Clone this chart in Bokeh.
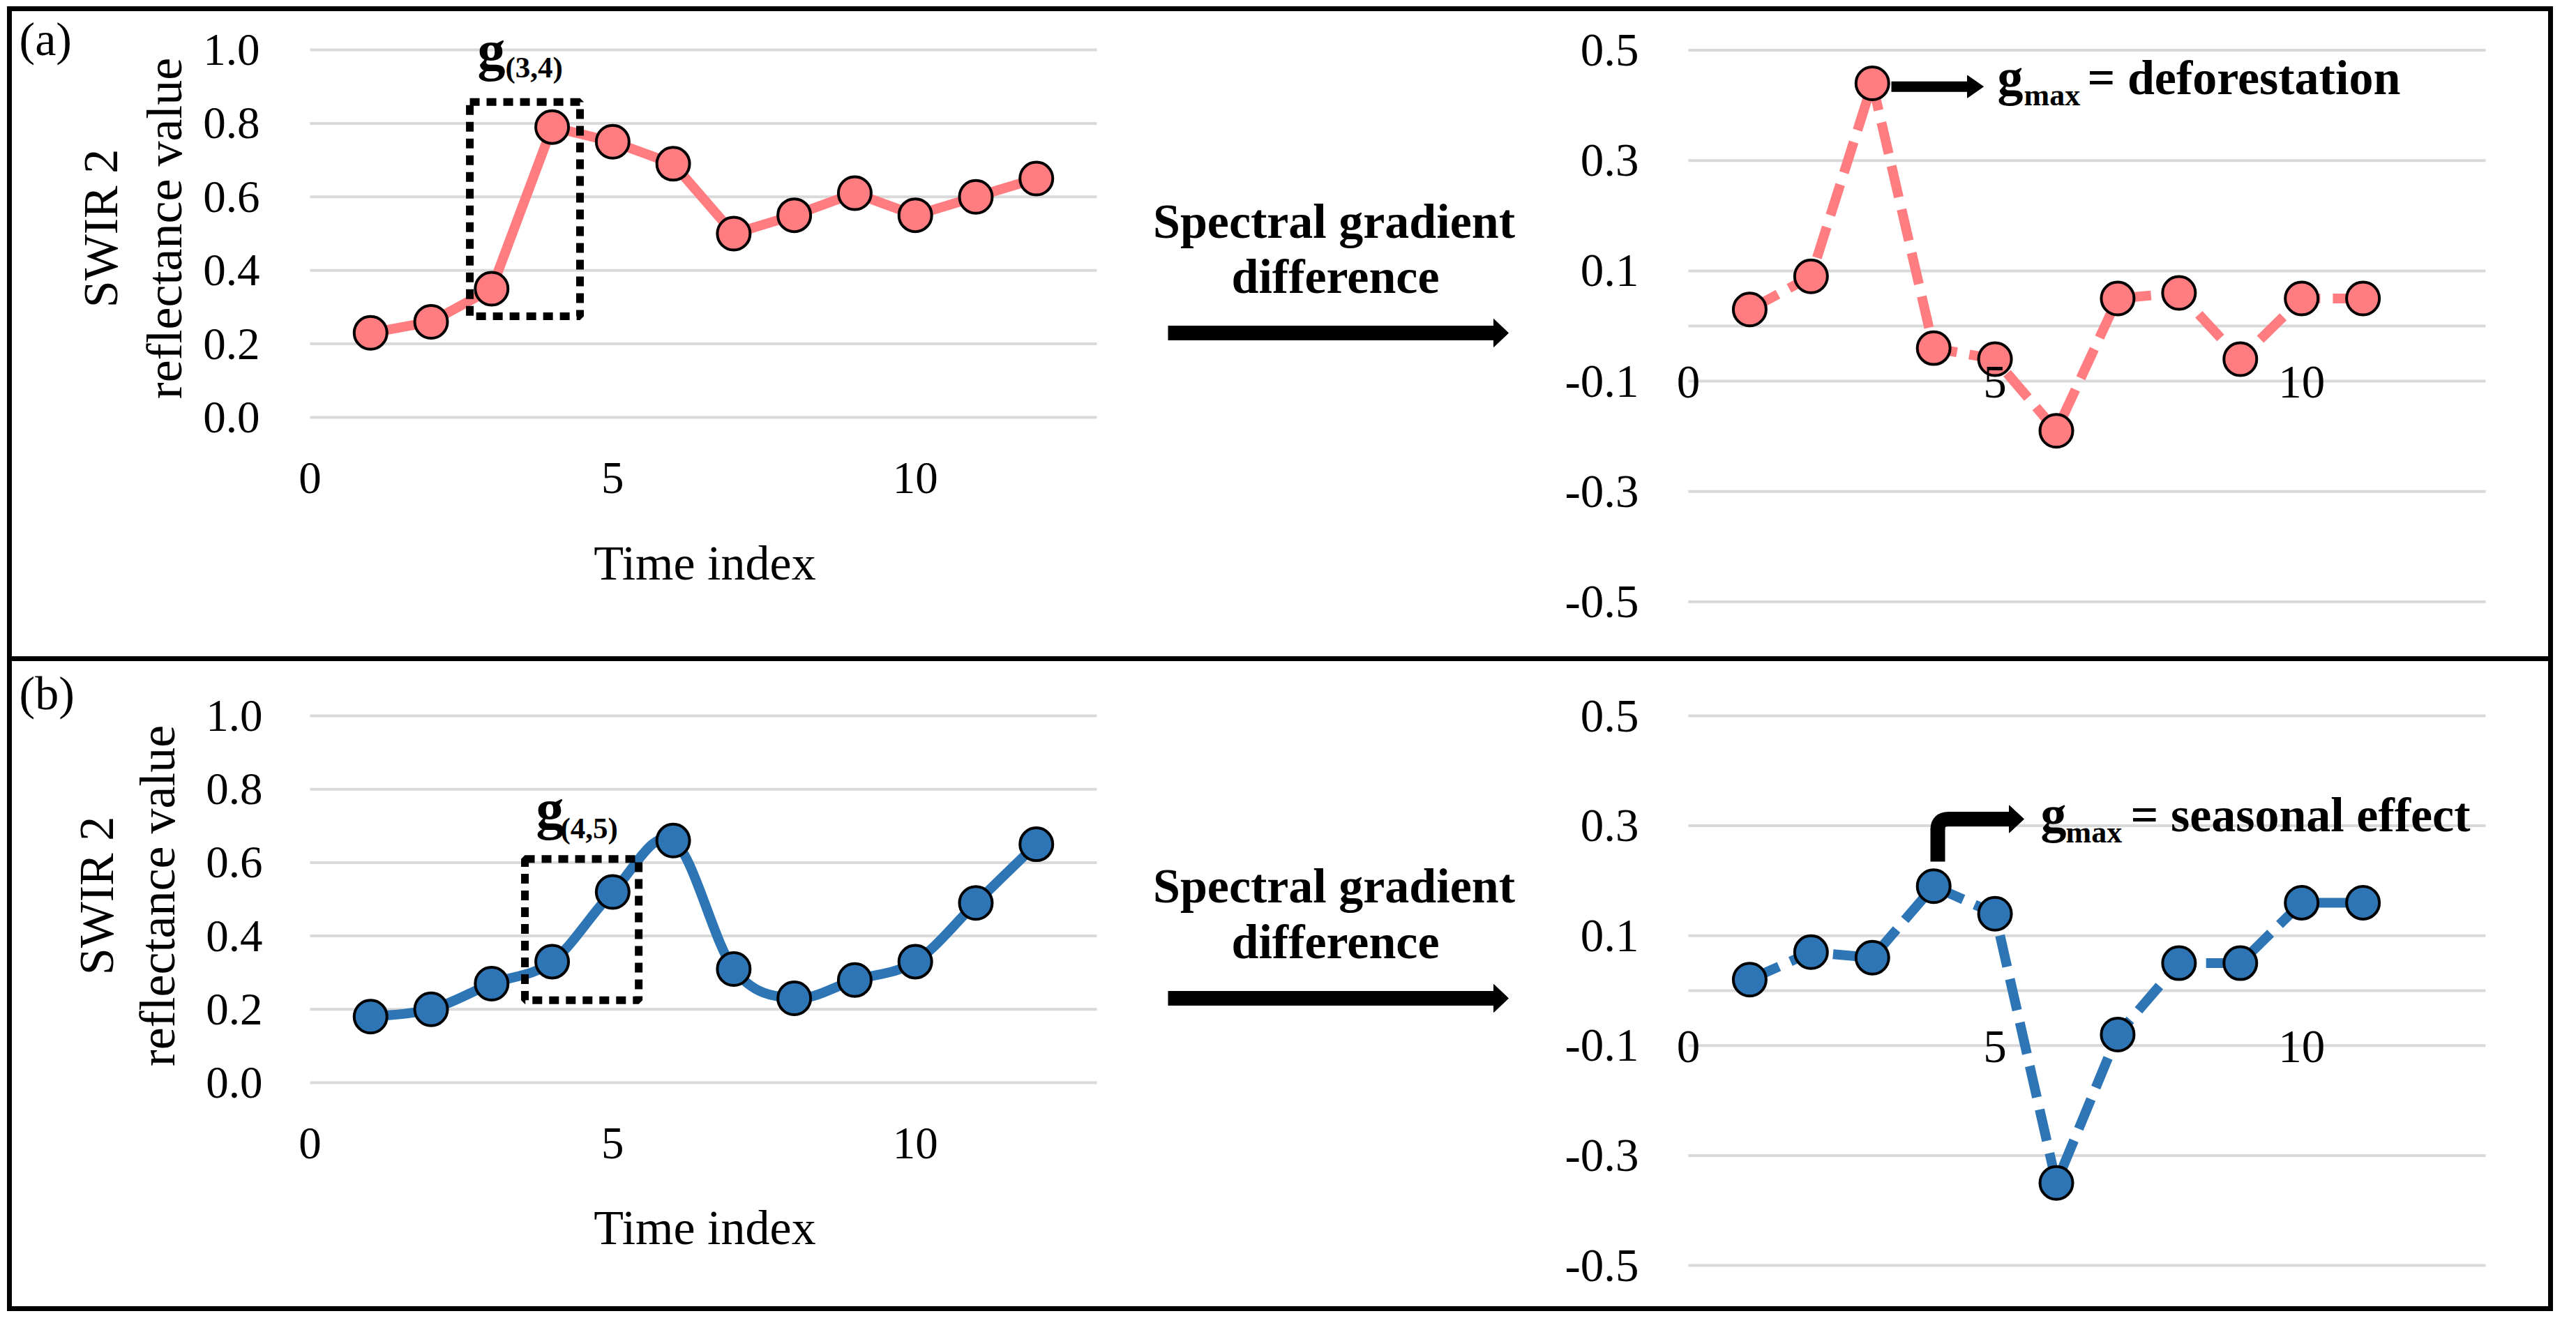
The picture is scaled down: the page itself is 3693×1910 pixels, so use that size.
import numpy as np
from bokeh.plotting import figure
from bokeh.models import Range1d, FixedTicker, PrintfTickFormatter, Label, Spacer
from bokeh.layouts import row, column
from bokeh.embed import file_html
from bokeh.resources import INLINE

# ---------------- data ----------------
time_index = [1, 2, 3, 4, 5, 6, 7, 8, 9, 10, 11, 12]
swir_a = [0.23, 0.26, 0.35, 0.79, 0.75, 0.69, 0.50, 0.55, 0.61, 0.55, 0.60, 0.65]
swir_b = [0.18, 0.20, 0.27, 0.33, 0.52, 0.66, 0.31, 0.23, 0.28, 0.33, 0.49, 0.65]
grad_index = [1, 2, 3, 4, 5, 6, 7, 8, 9, 10, 11]
grad_a = [0.03, 0.09, 0.44, -0.04, -0.06, -0.19, 0.05, 0.06, -0.06, 0.05, 0.05]
grad_b = [0.02, 0.07, 0.06, 0.19, 0.14, -0.35, -0.08, 0.05, 0.05, 0.16, 0.16]
x_ticks = [0, 5, 10]
x_extent = [0, 13]
swir_ticks = [0.0, 0.2, 0.4, 0.6, 0.8, 1.0]
grad_ticks = [-0.5, -0.3, -0.1, 0.1, 0.3, 0.5]
grad_grid = [-0.5, -0.3, -0.1, 0.0, 0.1, 0.3, 0.5]
box_a = [2.64, 4.46, 0.275, 0.858]   # left, right, bottom, top (gradient window 3-4)
box_b = [3.55, 5.43, 0.225, 0.61]    # gradient window 4-5

PINK = "#FF7C80"
BLUE = "#2E75B6"
GRID = "#D9D9D9"
FONT = "Liberation Serif"
MID = 0.3375   # (ascent - descent) / 2 of the font, in em: baseline -> box middle

# ---------------- page geometry (pixels) ----------------
PH = 925
LEFT_X, MID_X, RIGHT_X, END_X = 25, 1625, 2230, 3661
TOP_A, TOP_B = 24, 956


class Map:
    """page-pixel <-> data mapping of one chart (used for ranges and annotation placement)"""
    def __init__(self, px0, py0, sx, sy):
        self.px0, self.py0, self.sx, self.sy = px0, py0, sx, sy

    def x(self, px):
        return (px - self.px0) / self.sx

    def y(self, py):
        return (self.py0 - py) / self.sy


def make_fig(m, left, right, top):
    p = figure(width=right - left, height=PH,
               x_range=Range1d(m.x(left), m.x(right)),
               y_range=Range1d(m.y(top + PH), m.y(top)),
               output_backend="svg", toolbar_location=None, min_border=0)
    p.outline_line_color = None
    p.background_fill_color = "white"
    p.border_fill_color = "white"
    p.grid.visible = False
    for ax in p.axis:
        ax.fixed_location = 0
        ax.axis_line_color = None
        ax.major_tick_line_color = None
        ax.minor_tick_line_color = None
        ax.major_tick_out = 0
        ax.major_tick_in = 0
        ax.minor_tick_out = 0
        ax.minor_tick_in = 0
        ax.major_label_text_font = FONT
        ax.major_label_text_color = "black"
    return p


def text(p, m, px, base, s, size, bold=False, align="left", vertical=False):
    """place a text with its baseline at page position (px, base)"""
    if vertical:
        x, y, ang = m.x(base - MID * size), m.y(px), np.pi / 2
    else:
        x, y, ang = m.x(px), m.y(base - MID * size), 0.0
    p.add_layout(Label(x=x, y=y, text=s, text_font=FONT, text_font_size=f"{size}px",
                       text_font_style="bold" if bold else "normal", text_color="black",
                       text_align=align, text_baseline="middle", angle=ang))


def smooth_segments(xs, ys):
    n = len(xs)
    out = dict(x0=[], y0=[], x1=[], y1=[], cx0=[], cy0=[], cx1=[], cy1=[])
    for i in range(n - 1):
        xm, ym = (xs[i - 1], ys[i - 1]) if i > 0 else (xs[i], ys[i])
        xp, yp = (xs[i + 2], ys[i + 2]) if i + 2 < n else (xs[i + 1], ys[i + 1])
        out["x0"].append(xs[i]); out["y0"].append(ys[i])
        out["x1"].append(xs[i + 1]); out["y1"].append(ys[i + 1])
        out["cx0"].append(xs[i] + (xs[i + 1] - xm) / 6.0)
        out["cy0"].append(ys[i] + (ys[i + 1] - ym) / 6.0)
        out["cx1"].append(xs[i + 1] - (xp - xs[i]) / 6.0)
        out["cy1"].append(ys[i + 1] - (yp - ys[i]) / 6.0)
    return out


def left_chart(m, top, vals, color, smooth, box, sub, g_px, sub_px, panel, panel_px,
               lab_x, lab_c, time_base, standoff):
    p = make_fig(m, LEFT_X, MID_X, top)
    # horizontal grid lines between x = 0 and 13
    p.segment(x0=[x_extent[0]] * len(swir_ticks), x1=[x_extent[1]] * len(swir_ticks),
              y0=swir_ticks, y1=swir_ticks, line_color=GRID, line_width=4)
    p.yaxis.ticker = FixedTicker(ticks=swir_ticks)
    p.yaxis.formatter = PrintfTickFormatter(format="%.1f")
    p.yaxis.major_label_standoff = standoff
    p.yaxis.major_label_text_font_size = "65px"
    p.xaxis.ticker = FixedTicker(ticks=x_ticks)
    p.xaxis.major_label_standoff = 65
    p.xaxis.major_label_text_font_size = "65px"

    if smooth:
        seg = smooth_segments(time_index, vals)
        p.bezier(x0=seg["x0"], y0=seg["y0"], x1=seg["x1"], y1=seg["y1"],
                 cx0=seg["cx0"], cy0=seg["cy0"], cx1=seg["cx1"], cy1=seg["cy1"],
                 line_color=color, line_width=14, line_cap="round")
    else:
        p.line(time_index, vals, line_color=color, line_width=14, line_join="round")

    p.quad(left=[box[0]], right=[box[1]], bottom=[box[2]], top=[box[3]],
           fill_color=None, line_color="black", line_width=11, line_dash="14 10")
    p.scatter(time_index, vals, size=47, fill_color=color, line_color="black", line_width=4)

    # window label g(i,j)
    text(p, m, g_px[0], g_px[1], "g", 80, bold=True)
    text(p, m, sub_px[0], sub_px[1], sub, 43, bold=True)
    # axis titles
    text(p, m, lab_c, lab_x[0], "SWIR 2", 70, align="center", vertical=True)
    text(p, m, lab_c, lab_x[1], "reflectance value", 72, align="center", vertical=True)
    text(p, m, 1018, time_base, "Time index", 70, align="center")
    # panel tag
    text(p, m, panel_px[0], panel_px[1], panel, 68)
    return p


def middle(top, b1, b2, ya):
    m = Map(MID_X, top + PH, 1.0, 1.0)
    p = figure(width=RIGHT_X - MID_X, height=PH, x_range=Range1d(0, RIGHT_X - MID_X),
               y_range=Range1d(0, PH), output_backend="svg", toolbar_location=None, min_border=0)
    p.axis.visible = False
    p.grid.visible = False
    p.outline_line_color = None
    p.border_fill_color = "white"
    text(p, m, 1920, b1, "Spectral gradient", 70, bold=True, align="center")
    text(p, m, 1922, b2, "difference", 70, bold=True, align="center")
    y = m.y(ya)
    p.segment(x0=[m.x(1682)], y0=[y], x1=[m.x(2150)], y1=[y], line_width=21, line_color="black")
    p.patch(x=[m.x(2149), m.x(2170), m.x(2149)], y=[y + 20, y, y - 20],
            fill_color="black", line_color="black")
    return p


def right_chart(m, top, vals, color):
    p = make_fig(m, RIGHT_X, END_X, top)
    p.segment(x0=[x_extent[0]] * len(grad_grid), x1=[x_extent[1]] * len(grad_grid),
              y0=grad_grid, y1=grad_grid, line_color=GRID, line_width=4)
    p.yaxis.ticker = FixedTicker(ticks=grad_ticks)
    p.yaxis.formatter = PrintfTickFormatter(format="%.1f")
    p.yaxis.major_label_standoff = 71
    p.yaxis.major_label_text_font_size = "67px"
    p.xaxis.ticker = FixedTicker(ticks=x_ticks)
    p.xaxis.major_label_standoff = 58
    p.xaxis.major_label_text_font_size = "67px"

    p.line(grad_index, vals, line_color=color, line_width=14, line_dash="46 18")
    p.scatter(grad_index, vals, size=47, fill_color=color, line_color="black", line_width=4)
    return p


def gmax_text(p, m, gx, base, subx, subbase, restx, rest):
    text(p, m, gx, base, "g", 74, bold=True)
    text(p, m, subx, subbase, "max", 44, bold=True)
    text(p, m, restx, base, rest, 70, bold=True)


def head(p, m, x0, x1, yc, half):
    y = m.y(yc)
    h = half / m.sy
    p.patch(x=[m.x(x0), m.x(x1), m.x(x0)], y=[y + h, y, y - h], fill_color="black", line_color="black")


# ---------------- panel (a) ----------------
ma_l = Map(452, 606, 86.77, 527.0)
ma_r = Map(2428, 475, 87.92, 791.0)
fa_left = left_chart(ma_l, TOP_A, swir_a, PINK, False, box_a, "(3,4)", (692, 107), (732, 119),
                     "(a)", (35, 86), (176, 268), 335, 839, 72)
fa_mid = middle(TOP_A, 349, 428, 485)
fa_right = right_chart(ma_r, TOP_A, grad_a, PINK)
fa_right.segment(x0=[ma_r.x(2719)], y0=[ma_r.y(131.7)], x1=[ma_r.x(2829)], y1=[ma_r.y(131.7)],
                 line_width=15, line_color="black")
head(fa_right, ma_r, 2828, 2851, 131.7, 16)
gmax_text(fa_right, ma_r, 2871, 143, 2909, 159, 3000, "= deforestation")

# ---------------- panel (b) ----------------
mb_l = Map(452, 1560, 86.77, 526.0)
mb_r = Map(2428, 1428, 87.92, 788.0)
fb_left = left_chart(mb_l, TOP_B, swir_b, BLUE, True, box_b, "(4,5)", (776, 1195), (811, 1210),
                     "(b)", (35, 1024), (170, 258), 1292, 1792, 68)
fb_mid = middle(TOP_B, 1302, 1382, 1439)
fb_right = right_chart(mb_r, TOP_B, grad_b, BLUE)
# bent arrow
fb_right.segment(x0=[mb_r.x(2785.5)], y0=[mb_r.y(1243)], x1=[mb_r.x(2785.5)], y1=[mb_r.y(1196)],
                 line_width=21, line_color="black")
fb_right.quadratic(x0=[mb_r.x(2785.5)], y0=[mb_r.y(1197)], x1=[mb_r.x(2801)], y1=[mb_r.y(1182)],
                   cx=[mb_r.x(2785.5)], cy=[mb_r.y(1182)], line_width=21, line_color="black")
fb_right.segment(x0=[mb_r.x(2800)], y0=[mb_r.y(1182)], x1=[mb_r.x(2889)], y1=[mb_r.y(1182)],
                 line_width=21, line_color="black")
head(fb_right, mb_r, 2888, 2909, 1182, 19.5)
gmax_text(fb_right, mb_r, 2933, 1200, 2969, 1215.6, 3062, "= seasonal effect")


def hbar():
    return Spacer(width=END_X - LEFT_X + 14, height=7, styles={"background-color": "black"})


def vbar():
    return Spacer(width=7, height=PH, styles={"background-color": "black"})


panel_a = row(vbar(), fa_left, fa_mid, fa_right, vbar())
panel_b = row(vbar(), fb_left, fb_mid, fb_right, vbar())
layout = column(hbar(), panel_a, hbar(), panel_b, hbar(), margin=(9, 0, 0, 10))

open("out.html", "w").write(file_html(layout, INLINE))
